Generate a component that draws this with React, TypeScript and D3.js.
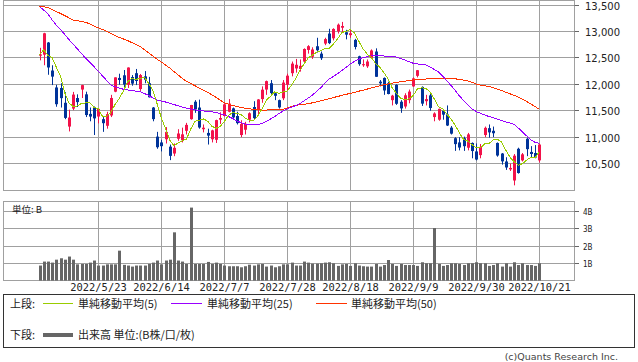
import React from "react";
import * as d3 from "d3";

const dates = [
  "5/3","5/4","5/5","5/6","5/9","5/10","5/11","5/12","5/13","5/16","5/17","5/18","5/19","5/20","5/23","5/24","5/25","5/26","5/27","5/31",
  "6/1","6/2","6/3","6/6","6/7","6/8","6/9","6/10","6/13","6/14","6/15","6/16","6/17","6/21","6/22","6/23","6/24","6/27","6/28","6/29","6/30",
  "7/1","7/5","7/6","7/7","7/8","7/11","7/12","7/13","7/14","7/15","7/18","7/19","7/20","7/21","7/22","7/25","7/26","7/27","7/28","7/29",
  "8/1","8/2","8/3","8/4","8/5","8/8","8/9","8/10","8/11","8/12","8/15","8/16","8/17","8/18","8/19","8/22","8/23","8/24","8/25","8/26","8/29","8/30","8/31",
  "9/1","9/2","9/6","9/7","9/8","9/9","9/12","9/13","9/14","9/15","9/16","9/19","9/20","9/21","9/22","9/23","9/26","9/27","9/28","9/29","9/30",
  "10/3","10/4","10/5","10/6","10/7","10/10","10/11","10/12","10/13","10/14","10/17","10/18","10/19","10/20","10/21",
];

const openP = [
  12541,12560,12790,12260,11940,11930,11650,11200,11540,11740,11900,11810,11440,11560,11390,11340,11215,11410,11860,12120,
  12170,11990,12137,12210,11910,12150,12020,11560,11010,10900,10960,10820,10690,10970,10940,11120,11340,11670,11560,11150,11080,
  10960,10950,11330,11400,11480,11545,11400,11040,11140,11330,11570,11515,11720,11900,12020,11830,11700,11735,11990,12210,
  12300,12290,12430,12650,12520,12720,12580,12770,12960,12870,13000,13070,12985,12930,12840,12530,12360,12340,12500,12620,12050,12120,12020,
  11700,11990,11670,11580,11700,11960,12160,11950,11680,11790,11380,11330,11500,11430,11180,10980,10900,10980,10800,10890,10730,
  10660,11040,11170,11120,10890,10690,10540,10390,10180,10780,10560,10970,10720,10700,10560,
];
const highP = [
  12690,12974,12800,12360,11990,12020,11850,11520,11856,11810,11990,11860,11560,11580,11545,11380,11480,11800,12131,12200,
  12270,12320,12174,12290,12195,12250,12140,11570,11100,10950,11190,10860,10880,11150,11180,11270,11610,11700,11710,11240,11160,
  11140,11330,11470,11640,11720,11560,11480,11320,11290,11470,11680,11720,11960,12070,12080,11850,11710,12080,12200,12430,
  12480,12470,12680,12740,12700,12880,12620,12880,13050,13060,13150,13180,13030,13040,12860,12540,12470,12470,12660,12680,12080,12130,12050,
  11800,12000,11700,11830,11900,12130,12270,11960,11800,11850,11470,11540,11520,11600,11210,11000,11000,11010,11080,10900,10880,
  10870,11200,11240,11200,10900,10700,10620,10500,10680,10800,10700,10990,10830,10850,10880,
];
const lowP = [
  12453,12360,12180,11985,11575,11560,11340,11108,11510,11570,11740,11380,11300,11040,11260,11100,11160,11380,11850,11990,
  11900,11930,11973,11985,11875,12020,11750,11300,10780,10730,10880,10565,10640,10930,10900,11050,11330,11460,11160,11090,10860,
  10900,10890,11250,11390,11470,11340,11240,11000,11050,11280,11340,11430,11650,11800,11790,11700,11540,11700,11880,12150,
  12220,12240,12420,12580,12480,12600,12460,12740,12760,12830,12960,12980,12850,12880,12660,12350,12330,12310,12480,12140,11960,11800,11810,
  11600,11610,11460,11540,11640,11950,12130,11590,11600,11500,11300,11310,11330,11210,11050,10740,10750,10740,10750,10600,10560,
  10600,11000,10990,11000,10630,10480,10380,10360,10088,10310,10540,10640,10610,10600,10520,
];
const closeP = [
  12564,12965,12318,12145,11623,11738,11364,11371,11805,11663,11984,11418,11389,11355,11535,11264,11435,11741,12131,12081,
  11994,12317,12013,12062,12175,12086,11754,11341,10809,10829,11099,10646,10798,11069,11053,11232,11608,11524,11182,11178,11029,
  11128,11322,11362,11621,11635,11373,11265,11248,11252,11452,11360,11713,11898,12060,11834,11782,11563,12032,12163,12391,
  12369,12349,12668,12721,12658,12644,12493,12855,12779,13047,13128,13103,12939,12966,12706,12381,12381,12431,12640,12142,12018,11883,11816,
  11785,11631,11544,11792,11862,12112,12266,11634,11719,11552,11448,11535,11425,11220,11066,10868,10803,10829,11052,10737,10576,
  10815,11176,11090,11074,10652,10542,10426,10417,10649,10321,10675,10773,10681,10614,10860,
];
// closes of the four sessions before the first visible day (for the 5-day average)
const priorCloses = [12489, 12872, 12335, 12536];

const ma25 = [
  13468,13405,13330,13220,13121,13036,12942,12847,12762,12671,12582,12493,12412,12331,12247,12157,12072,11986,11952,11930,
  11905,11892,11880,11869,11860,11826,11788,11744,11703,11684,11665,11642,11617,11593,11570,11547,11532,11517,11500,11495,
  11489,11481,11466,11443,11423,11390,11351,11305,11275,11245,11230,11230,11230,11262,11300,11343,11390,11447,11495,11538,
  11565,11599,11636,11689,11740,11797,11867,11939,12024,12100,12151,12204,12261,12321,12384,12435,12473,12501,12520,12535,
  12539,12539,12535,12531,12526,12516,12488,12459,12425,12397,12384,12374,12365,12327,12280,12232,12157,12062,11977,11882,
  11778,11693,11608,11532,11485,11449,11419,11390,11370,11343,11317,11290,11267,11239,11173,11097,11022,10946,10902,10880,
];
const ma50 = [
  13480,13466,13449,13415,13377,13339,13301,13258,13216,13201,13188,13174,13140,13099,13068,13036,13002,12964,12923,12885,
  12857,12826,12788,12751,12711,12652,12592,12535,12474,12421,12365,12308,12242,12176,12113,12056,12015,11973,11930,11892,
  11848,11803,11754,11703,11650,11621,11599,11578,11561,11546,11536,11527,11519,11513,11513,11515,11519,11523,11529,11551,
  11580,11602,11612,11623,11633,11650,11669,11689,11710,11729,11750,11769,11790,11810,11829,11848,11869,11888,11909,11930,
  11949,11971,11992,12007,12020,12036,12049,12058,12070,12081,12087,12094,12100,12107,12113,12113,12113,12113,12113,12104,
  12090,12079,12064,12036,12005,11986,11973,11958,11935,11911,11882,11852,11820,11792,11754,11714,11674,11627,11578,11527,
];

const volumeB = [
  0.87,1.10,1.10,1.04,1.21,1.29,1.21,1.39,1.21,0.94,0.96,0.96,1.04,1.16,0.87,0.87,0.94,0.94,0.94,1.73,
  0.91,0.87,0.81,0.87,0.87,0.87,0.96,1.04,1.16,0.94,1.16,1.21,2.79,1.16,1.10,0.96,4.22,0.96,0.96,0.96,
  1.08,0.96,1.04,0.96,0.87,0.83,0.83,0.83,0.77,0.83,0.92,0.87,0.94,0.96,0.81,0.87,0.77,0.83,0.94,0.94,
  1.04,0.87,0.87,1.10,1.04,0.98,0.98,1.00,1.04,1.06,1.00,0.85,0.94,0.96,0.85,1.00,0.87,0.83,0.81,0.81,
  0.96,0.81,0.90,1.19,0.96,0.85,0.96,0.90,0.90,0.90,0.85,1.06,1.00,1.00,3.04,0.96,0.85,0.90,1.00,1.00,
  0.96,0.90,1.00,1.00,1.06,1.00,1.00,0.85,0.90,1.00,0.81,1.00,0.81,1.06,0.90,1.00,0.90,0.90,0.85,1.00,
];

const priceTicks = [10500, 11000, 11500, 12000, 12500, 13000, 13500];
const volumeTicks = [1, 2, 3, 4];
const volumeTickLabels = ["1B", "2B", "3B", "4B"];
const dateTickLabels = ["2022/5/23","2022/6/14","2022/7/7","2022/7/28","2022/8/18","2022/9/9","2022/9/30","2022/10/21"];
const dateTickKeys = ["5/23","6/14","7/7","7/28","8/18","9/9","9/30","10/21"];

const legendTop = ["単純移動平均(5)", "単純移動平均(25)", "単純移動平均(50)"];

const UP = "#f2124a";
const DOWN = "#003399";
const GRID = "#a0a0a0";
const C5 = "#99cc00";
const C25 = "#9900ff";
const C50 = "#ff3300";

export default function App() {
  const W = 638, H = 362;
  const L = 3.5, R = 574.5;
  const n = closeP.length;
  const x = d3.scaleLinear().domain([0, n - 1]).range([39.5, 539.3]);
  const y = d3.scaleLinear().domain([10000, 13500]).range([190, 5]);
  const vy = d3.scaleLinear().domain([0, 4]).range([280.6, 211.4]);

  const allC = priorCloses.concat(closeP);
  const ma5 = closeP.map((_, i) => d3.mean(allC.slice(i, i + 5)) as number);

  const line = (arr: number[]) =>
    d3.line<number>().x((_, i) => x(i)).y((v) => y(v))(arr) || "";

  const tickIdx = dateTickKeys.map((k) => dates.indexOf(k));
  const gx = (i: number) => Math.floor(x(i)) + 0.5;
  const gy = (v: number) => Math.floor(y(v)) + 0.5;
  const gvy = (v: number) => Math.floor(vy(v)) + 0.5;

  const jp = "'Noto Sans CJK JP', 'DejaVu Sans', sans-serif";

  return (
    <svg width={W} height={H} style={{ position: "absolute", left: 0, top: 0, background: "#fff" }}>
      <rect x={0} y={0} width={W} height={H} fill="#fff" />
      {/* price panel */}
      <rect x={L} y={0.5} width={R - L} height={190} fill="#fff" stroke={GRID} />
      {priceTicks.map((t) => (
        <g key={"pt" + t}>
          <line x1={L} x2={R} y1={gy(t)} y2={gy(t)} stroke={GRID} />
          <line x1={R} x2={579} y1={gy(t)} y2={gy(t)} stroke="#666" />
          <text x={585} y={gy(t) + 4} fontFamily="'DejaVu Sans', sans-serif" fontSize={10} fill="#222">
            {d3.format(",")(t)}
          </text>
        </g>
      ))}
      {tickIdx.map((i) => (
        <line key={"vg" + i} x1={gx(i)} x2={gx(i)} y1={0.5} y2={190.5} stroke={GRID} />
      ))}

      {/* candles */}
      {closeP.map((c, i) => {
        const o = openP[i];
        const col = c >= o ? UP : DOWN;
        const xr = Math.round(x(i));
        const top = y(Math.max(o, c));
        const bot = y(Math.min(o, c));
        return (
          <g key={"c" + i}>
            <line x1={xr + 0.5} x2={xr + 0.5} y1={y(highP[i])} y2={y(lowP[i])} stroke={col} />
            <rect x={xr - 1} y={top} width={3} height={Math.max(1, bot - top)} fill={col} />
          </g>
        );
      })}

      {/* moving averages */}
      <path d={line(ma50)} fill="none" stroke={C50} strokeWidth={1} shapeRendering="crispEdges" />
      <path d={line(ma25)} fill="none" stroke={C25} strokeWidth={1} shapeRendering="crispEdges" />
      <path d={line(ma5)} fill="none" stroke={C5} strokeWidth={1} shapeRendering="crispEdges" />

      {/* volume panel */}
      <rect x={L} y={201.5} width={R - L} height={79} fill="none" stroke={GRID} />
      {volumeTicks.map((t, k) => (
        <g key={"vt" + t}>
          <line x1={L} x2={R} y1={gvy(t)} y2={gvy(t)} stroke={GRID} />
          <line x1={R} x2={579} y1={gvy(t)} y2={gvy(t)} stroke="#666" />
          <text x={583} y={gvy(t) + 3} fontFamily="'DejaVu Sans', sans-serif" fontSize={8} fontStretch="condensed" fill="#222">
            {volumeTickLabels[k]}
          </text>
        </g>
      ))}
      {tickIdx.map((i) => (
        <line key={"vvg" + i} x1={gx(i)} x2={gx(i)} y1={201.5} y2={280.5} stroke={GRID} />
      ))}
      {volumeB.map((v, i) => {
        const xr = Math.round(x(i));
        return <rect key={"v" + i} x={xr - 1} y={vy(v)} width={3} height={vy(0) - vy(v)} fill="#666" />;
      })}
      <text x={12} y={213} fontFamily={jp} fontSize={9.5} fill="#222">単位: B</text>

      {/* date labels */}
      {tickIdx.map((i, k) => (
        <text key={"dl" + i} x={gx(i)} y={290.5} textAnchor="middle" fontFamily="'DejaVu Sans Mono', monospace" fontSize={10.4} fill="#222">
          {dateTickLabels[k]}
        </text>
      ))}

      {/* legend */}
      <rect x={3.5} y={294.5} width={631} height={53} fill="none" stroke="#333" />
      <text x={10} y={307.5} fontFamily={jp} fontSize={11} fill="#222">上段:</text>
      <line x1={43} x2={73} y1={303.5} y2={303.5} stroke={C5} />
      <text x={78} y={307.5} fontFamily={jp} fontSize={11} fill="#222">{legendTop[0]}</text>
      <line x1={171} x2={202} y1={303.5} y2={303.5} stroke={C25} />
      <text x={207} y={307.5} fontFamily={jp} fontSize={11} fill="#222">{legendTop[1]}</text>
      <line x1={316} x2={347} y1={303.5} y2={303.5} stroke={C50} />
      <text x={351} y={307.5} fontFamily={jp} fontSize={11} fill="#222">{legendTop[2]}</text>
      <text x={10} y={339} fontFamily={jp} fontSize={11} fill="#222">下段:</text>
      <rect x={43} y={333} width={30} height={4} fill="#666" />
      <text x={78} y={339} fontFamily={jp} fontSize={11} fill="#222">出来高 単位:(B株/口/枚)</text>

      <text x={618} y={360} textAnchor="end" fontFamily="'DejaVu Sans', sans-serif" fontSize={9.5} fill="#444">
        (c)Quants Research Inc.
      </text>
    </svg>
  );
}
